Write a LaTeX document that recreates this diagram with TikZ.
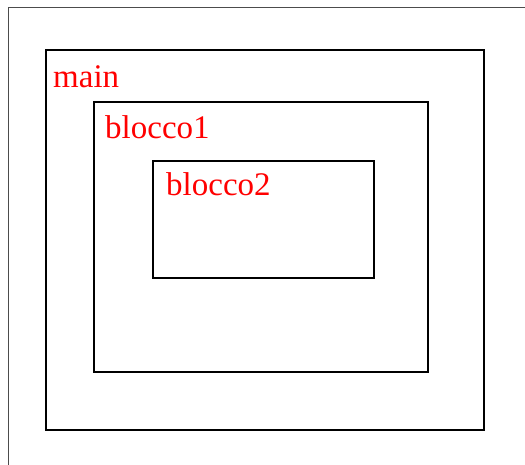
\documentclass[tikz,border=0pt]{standalone}
\usepackage{fontspec}
\setmainfont{Liberation Serif}
\begin{document}
\begin{tikzpicture}[x=1pt,y=-1pt,
  blockbox/.style={draw=black,line width=1.8pt},
  lbl/.style={anchor=base west,inner sep=0pt,text=red,font=\fontsize{33}{39}\selectfont},
  frame/.style={draw=black!70,line width=0.9pt}]
\useasboundingbox (0,0) rectangle (525,465);
\draw[frame] (8,465) -- (8,7) -- (525,7);
\draw[blockbox] (46,50) rectangle (484,430);
\draw[blockbox] (94,102) rectangle (428,372);
\draw[blockbox] (153,161) rectangle (374,278);
\node[lbl] (lmain) at (53,88) {main};
\node[lbl] (lb1) at (105,139) {blocco1};
\node[lbl] (lb2) at (166,196) {blocco2};
\end{tikzpicture}
\end{document}
